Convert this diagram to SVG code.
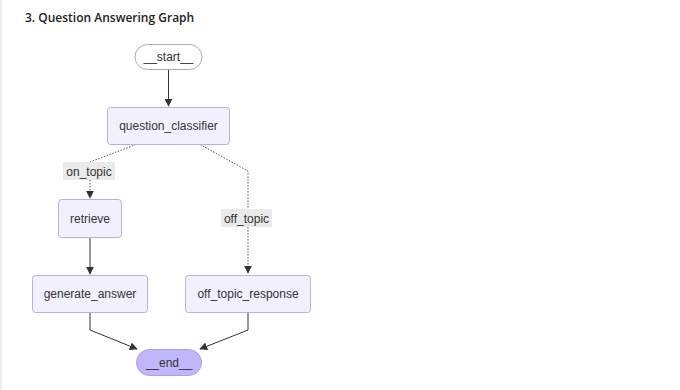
<svg xmlns="http://www.w3.org/2000/svg" width="680" height="390" viewBox="0 0 680 390">
<defs>
<marker id="arr" viewBox="0 0 10 10" refX="9" refY="5" markerWidth="8" markerHeight="8" markerUnits="userSpaceOnUse" orient="auto">
<path d="M0,0 L10,5 L0,10 z" fill="#333"/>
</marker>
</defs>
<style>
.title{font-family:"Open Sans","Liberation Sans",sans-serif;font-size:12px;font-weight:600;fill:#222}
.lbl{font-family:"Liberation Sans",Arial,sans-serif;font-size:12px;fill:#333;text-anchor:middle;dominant-baseline:central}
.node{fill:#f2f0ff;stroke:#b8b0e0;stroke-width:1}
.first{fill:#ffffff;stroke:#aaaaaa;stroke-width:1}
.last{fill:#bfb6fc;stroke:#a8a0e8;stroke-width:1}
.edge{fill:none;stroke:#333;stroke-width:1}
.dot{fill:none;stroke:#555;stroke-width:1;stroke-dasharray:1.5 1.5}
.ebg{fill:#e8e8e8;opacity:0.9}
</style>
<rect x="0" y="0" width="680" height="390" fill="#ffffff"/>
<rect x="0" y="0" width="2" height="390" fill="#eeeeee"/>
<text class="title" x="25" y="22">3. Question Answering Graph</text>
<g id="connectors">
<path class="edge" d="M168.5,69.5 L168.5,106" marker-end="url(#arr)"/>
<path class="dot" d="M136,144.5 L90,162"/>
<path class="dot" d="M90,180 L90,198" marker-end="url(#arr)"/>
<path class="dot" d="M200,144.5 L248,171 L248,273" marker-end="url(#arr)"/>
<path class="edge" d="M90,237.5 L90,274" marker-end="url(#arr)"/>
<path class="edge" d="M90,312.5 L90,330 L137,349" marker-end="url(#arr)"/>
<path class="edge" d="M248,312.5 L248,330 L200,349" marker-end="url(#arr)"/>
<rect class="ebg" x="63" y="162" width="52" height="18"/>
<text class="lbl" x="89" y="171.5">on_topic</text>
<rect class="ebg" x="221" y="209" width="51" height="18"/>
<text class="lbl" x="246.5" y="218.5">off_topic</text>
</g>
<g id="start">
<rect class="first" x="135" y="44.5" width="67" height="25" rx="12.5"/>
<text class="lbl" x="168.5" y="57">__start__</text>
</g>
<g id="question_classifier">
<rect class="node" x="107.5" y="107.5" width="122" height="37" rx="3"/>
<text class="lbl" x="168.5" y="126">question_classifier</text>
</g>
<g id="retrieve">
<rect class="node" x="58.5" y="199.5" width="63" height="38" rx="3"/>
<text class="lbl" x="90" y="218.5">retrieve</text>
</g>
<g id="generate_answer">
<rect class="node" x="32.5" y="275.5" width="115" height="37" rx="3"/>
<text class="lbl" x="90" y="294">generate_answer</text>
</g>
<g id="off_topic_response">
<rect class="node" x="185.5" y="275.5" width="125" height="37" rx="3"/>
<text class="lbl" x="248" y="294">off_topic_response</text>
</g>
<g id="end">
<rect class="last" x="136.5" y="349.5" width="65" height="26" rx="13"/>
<text class="lbl" x="169" y="362.5">__end__</text>
</g>
</svg>
